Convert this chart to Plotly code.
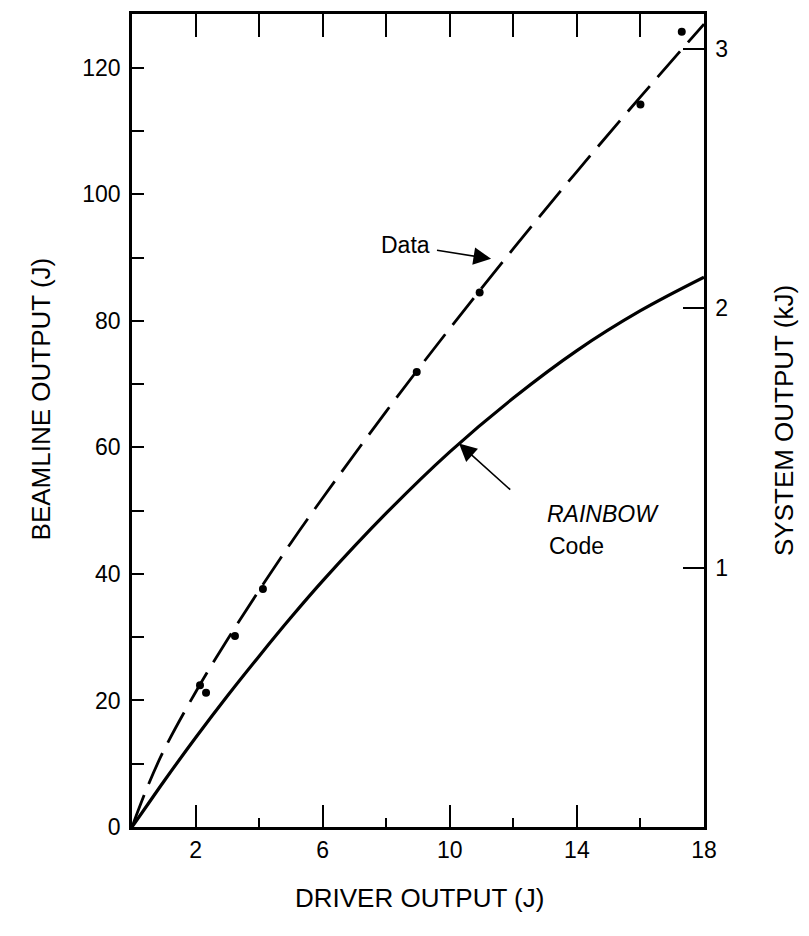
import plotly.graph_objects as go

# ---- data ----
driver_curve = [0, 0.5, 1, 2, 3, 4, 5, 6, 8, 10, 12, 14, 16, 18]
data_fit = [0, 6.5, 12.1, 21.3, 29.6, 37.4, 44.9, 52.0, 65.7, 78.8, 91.4, 103.6, 115.4, 126.9]
rainbow_code = [0, 3.6, 7.2, 14.1, 20.7, 27.0, 33.1, 38.9, 49.6, 59.3, 67.8, 75.3, 81.6, 86.9]

meas_driver = [2.14, 2.33, 3.24, 4.12, 8.96, 10.94, 16.0, 17.3]
meas_beamline = [22.4, 21.2, 30.2, 37.6, 71.9, 84.5, 114.2, 125.7]

x_major = [2, 6, 10, 14, 18]
x_minor = [4, 8, 12, 16]
x_top = [2, 4, 6, 8, 10, 12, 14, 16]
y_major = [0, 20, 40, 60, 80, 100, 120]
y_minor = [10, 30, 50, 70, 90, 110]
kj_ticks = [1, 2, 3]
J_PER_KJ = 41.0

Y_MAX = 128.5
FONT = "Liberation Sans, Arial, Helvetica, sans-serif"

fig = go.Figure()

fig.add_trace(go.Scatter(
    x=driver_curve, y=data_fit, mode="lines",
    line=dict(color="black", width=2.8, dash="34px,12px"),
    line_shape="spline", hoverinfo="skip", showlegend=False))

fig.add_trace(go.Scatter(
    x=driver_curve, y=rainbow_code, mode="lines",
    line=dict(color="black", width=3.2),
    line_shape="spline", hoverinfo="skip", showlegend=False))

fig.add_trace(go.Scatter(
    x=meas_driver, y=meas_beamline, mode="markers",
    marker=dict(color="black", size=8),
    hoverinfo="skip", showlegend=False))

# helper trace so the top / right axes are drawn
fig.add_trace(go.Scatter(
    x=driver_curve, y=[v / J_PER_KJ for v in data_fit], xaxis="x2", yaxis="y2",
    mode="lines", line=dict(width=0), opacity=0,
    hoverinfo="skip", showlegend=False))

tickfont = dict(family=FONT, size=23, color="black")

fig.update_layout(
    width=795, height=922,
    margin=dict(l=124, r=99, t=6, b=103),
    paper_bgcolor="white", plot_bgcolor="white",
    font=dict(family=FONT, color="black"),
    xaxis=dict(
        range=[0, 18], showgrid=False, zeroline=False,
        showline=True, linecolor="black", linewidth=2.5,
        tickmode="array", tickvals=x_major, ticktext=[str(v) for v in x_major],
        ticks="inside", ticklen=22, tickwidth=2, tickcolor="black",
        ticklabelstandoff=1,
        minor=dict(tickmode="array", tickvals=x_minor, ticks="inside",
                   ticklen=9, tickwidth=2, tickcolor="black", showgrid=False),
        tickfont=tickfont,
    ),
    xaxis2=dict(
        range=[0, 18], overlaying="x", side="top", showgrid=False, zeroline=False,
        showline=True, linecolor="black", linewidth=2.5,
        tickmode="array", tickvals=x_top, ticks="inside", ticklen=23,
        tickwidth=2, tickcolor="black", showticklabels=False,
    ),
    yaxis=dict(
        range=[0, Y_MAX], showgrid=False, zeroline=False,
        showline=True, linecolor="black", linewidth=2.5,
        tickmode="array", tickvals=y_major, ticktext=[str(v) for v in y_major],
        ticks="inside", ticklen=12, tickwidth=2, tickcolor="black",
        ticklabelstandoff=4,
        minor=dict(tickmode="array", tickvals=y_minor, ticks="inside",
                   ticklen=12, tickwidth=2, tickcolor="black", showgrid=False),
        tickfont=tickfont,
    ),
    yaxis2=dict(
        range=[0, Y_MAX / J_PER_KJ], overlaying="y", side="right",
        showgrid=False, zeroline=False,
        showline=True, linecolor="black", linewidth=2.5,
        tickmode="array", tickvals=kj_ticks, ticktext=[str(v) for v in kj_ticks],
        ticks="inside", ticklen=21, tickwidth=2, tickcolor="black",
        ticklabelstandoff=4,
        tickfont=tickfont,
    ),
)

title_font = dict(family=FONT, size=26, color="black")
ann_font = dict(family=FONT, size=23, color="black")

annotations = [
    dict(text="DRIVER OUTPUT (J)", xref="paper", yref="paper", x=0.502, y=-0.0873,
         xanchor="center", yanchor="middle", showarrow=False, font=title_font),
    dict(text="BEAMLINE OUTPUT (J)", xref="paper", yref="paper", x=-0.159, y=0.526,
         xanchor="center", yanchor="middle", textangle=-90, showarrow=False, font=title_font),
    dict(text="SYSTEM OUTPUT (kJ)", xref="paper", yref="paper", x=1.139, y=0.50,
         xanchor="center", yanchor="middle", textangle=-90, showarrow=False, font=title_font),
    # Data label + arrow
    dict(text="Data", xref="x", yref="y", x=8.62, y=92.0,
         xanchor="center", yanchor="middle", showarrow=False, font=ann_font),
    dict(text="", xref="x", yref="y", axref="x", ayref="y",
         x=11.3, y=89.8, ax=9.55, ay=91.2,
         showarrow=True, arrowhead=2, arrowsize=2.2, arrowwidth=1.6, arrowcolor="black"),
    # RAINBOW Code label + arrow
    dict(text="<i>RAINBOW</i>", xref="x", yref="y", x=13.0, y=49.5,
         xanchor="left", yanchor="middle", showarrow=False, font=ann_font),
    dict(text="Code", xref="x", yref="y", x=13.05, y=44.4,
         xanchor="left", yanchor="middle", showarrow=False, font=ann_font),
    dict(text="", xref="x", yref="y", axref="x", ayref="y",
         x=10.29, y=60.6, ax=11.95, ay=53.1,
         showarrow=True, arrowhead=2, arrowsize=2.2, arrowwidth=1.6, arrowcolor="black"),
]
fig.update_layout(annotations=annotations)

fig.write_html("out.html")
